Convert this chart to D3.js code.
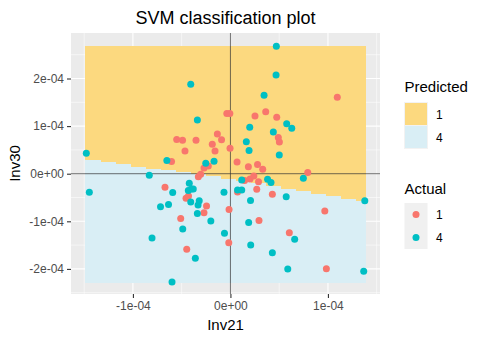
<!DOCTYPE html>
<html><head><meta charset="utf-8">
<script src="https://cdn.jsdelivr.net/npm/d3@7"></script>
<style>body{margin:0;background:#fff}svg{display:block;font-family:"Liberation Sans",Arial,sans-serif}</style>
</head><body><svg id="c" width="488" height="341"></svg>
<script>
// ---- data ----
const title = "SVM classification plot";
const xLabel = "Inv21", yLabel = "Inv30";
const xTickValues = [-1e-4, 0, 1e-4];
const xTickLabels = ["-1e-04", "0e+00", "1e-04"];
const yTickValues = [-2e-4, -1e-4, 0, 1e-4, 2e-4];
const yTickLabels = ["-2e-04", "-1e-04", "0e+00", "1e-04", "2e-04"];
const xMinor = [-1.5e-4, -0.5e-4, 0.5e-4, 1.5e-4];
const yMinor = [-2.5e-4, -1.5e-4, -0.5e-4, 0.5e-4, 1.5e-4, 2.5e-4];

// decision grid: column edges along Inv21 and boundary Inv30 per column
const gridInv21Edges = [-1.4944e-4, -1.3374e-4, -1.1836e-4, -1.0297e-4, -0.8759e-4, -0.7221e-4, -0.5682e-4,
  -0.4144e-4, -0.2605e-4, -0.1067e-4, 0.0472e-4, 0.2010e-4, 0.3549e-4, 0.5087e-4, 0.6626e-4, 0.8164e-4,
  0.9703e-4, 1.1241e-4, 1.2779e-4, 1.3877e-4];
const boundaryInv30 = [0.2983e-4, 0.2521e-4, 0.2038e-4, 0.1513e-4, 0.1092e-4, 0.0714e-4, 0.0315e-4, -0.0063e-4,
  -0.0483e-4, -0.1008e-4, -0.1534e-4, -0.2017e-4, -0.2584e-4, -0.3151e-4, -0.3634e-4, -0.4202e-4,
  -0.4685e-4, -0.5252e-4, -0.5798e-4];
const gridInv30Range = [-2.2962e-4, 2.6891e-4];

const predictedLevels = ["1", "4"];
const actualLevels = ["1", "4"];

// observations (units of Inv21 / Inv30), actual class
const red21 = [1.096,0.362,0.252,0.475,-0.037,-0.006,-0.551,-0.491,-0.353,-0.134,-0.091,-0.186,-0.466,-0.158,-0.004,
  0.491,0.502,-0.604,-0.271,-0.227,-0.329,-0.305,0.068,0.184,0.278,0.331,0.793,0.201,0.240,0.288,0.145,0.270,0.073,
  0.430,-0.671,-0.455,-0.430,-0.245,-0.271,-0.014,-0.510,0.293,0.968,-0.017,0.604,-0.448,0.984].map(v=>v*1e-4);
const red30 = [1.605,1.303,1.212,1.185,1.265,1.265,0.718,0.704,0.702,0.834,0.712,0.620,0.477,0.477,0.534,
  0.761,0.666,0.256,0.120,0.162,-0.063,-0.013,0.246,0.145,0.193,0.095,0.025,-0.111,-0.048,-0.168,-0.143,-0.328,-0.384,
  -0.431,-0.286,-0.517,-0.468,-0.679,-0.819,-0.752,-0.941,-0.983,-0.784,-1.450,-1.239,-1.588,-1.996].map(v=>v*1e-4);
const cyan21 = [0.471,0.468,-0.407,0.345,-0.339,0.198,0.577,0.629,0.440,0.163,0.191,0.501,-1.478,-0.652,-0.253,-0.168,
  -0.832,0.748,0.116,0.381,0.416,-1.447,-0.592,-0.422,-0.399,-0.432,-0.381,-0.066,0.073,0.116,0.572,0.206,1.378,-0.407,
  -0.320,-0.332,-0.339,-0.717,-0.635,-0.489,-0.201,0.187,-0.061,-0.804,0.208,0.659,-0.360,0.430,0.588,1.367,-0.599].map(v=>v*1e-4);
const cyan30 = [2.676,2.074,1.878,1.647,1.128,0.975,1.050,0.954,0.876,0.672,0.487,0.393,0.429,0.277,0.218,0.263,
  -0.032,-0.095,-0.132,-0.116,-0.185,-0.391,-0.397,-0.202,-0.321,-0.353,-0.321,-0.391,-0.342,-0.342,-0.483,-0.565,-0.567,-0.595,
  -0.567,-0.658,-0.836,-0.693,-0.649,-1.162,-0.994,-1.025,-1.252,-1.351,-1.498,-1.378,-1.777,-1.660,-2.002,-2.050,-2.275].map(v=>v*1e-4);

// ---- styling ----
const fillColors = {"1": "#FCD97F", "4": "#D9EEF5"};
const pointColors = {"1": "#F8766D", "4": "#00BFC4"};

const svg = d3.select("#c");
const P = {l: 71, r: 380, t: 33, b: 294};
const x = d3.scaleLinear().domain([-1.635e-4, 1.534e-4]).range([P.l, P.r]);
const y = d3.scaleLinear().domain([-2.527e-4, 2.956e-4]).range([P.b, P.t]);

// panel
svg.append("rect").attr("x", P.l).attr("y", P.t).attr("width", P.r - P.l).attr("height", P.b - P.t).attr("fill", "#EBEBEB");
const grid = svg.append("g").attr("stroke", "#fff");
xMinor.forEach(v => grid.append("line").attr("x1", x(v)).attr("x2", x(v)).attr("y1", P.t).attr("y2", P.b).attr("stroke-width", 0.55));
yMinor.forEach(v => grid.append("line").attr("y1", y(v)).attr("y2", y(v)).attr("x1", P.l).attr("x2", P.r).attr("stroke-width", 0.55));
xTickValues.forEach(v => grid.append("line").attr("x1", x(v)).attr("x2", x(v)).attr("y1", P.t).attr("y2", P.b).attr("stroke-width", 1.1));
yTickValues.forEach(v => grid.append("line").attr("y1", y(v)).attr("y2", y(v)).attr("x1", P.l).attr("x2", P.r).attr("stroke-width", 1.1));

// decision raster
const cols = boundaryInv30.map((b, i) => ({x0: gridInv21Edges[i], x1: gridInv21Edges[i + 1], b}));
const rg = svg.append("g").attr("shape-rendering", "crispEdges");
rg.selectAll("rect.p1").data(cols).join("rect")
  .attr("x", d => x(d.x0)).attr("width", d => x(d.x1) - x(d.x0) + 0.5)
  .attr("y", y(gridInv30Range[1])).attr("height", d => y(d.b) - y(gridInv30Range[1]))
  .attr("fill", fillColors["1"]);
rg.selectAll("rect.p4").data(cols).join("rect")
  .attr("x", d => x(d.x0)).attr("width", d => x(d.x1) - x(d.x0) + 0.5)
  .attr("y", d => y(d.b)).attr("height", d => y(gridInv30Range[0]) - y(d.b))
  .attr("fill", fillColors["4"]);

// reference lines
svg.append("line").attr("x1", x(0)).attr("x2", x(0)).attr("y1", P.t).attr("y2", P.b).attr("stroke", "#333").attr("stroke-opacity", 0.7).attr("stroke-width", 1);
svg.append("line").attr("y1", y(0)).attr("y2", y(0)).attr("x1", P.l).attr("x2", P.r).attr("stroke", "#333").attr("stroke-opacity", 0.7).attr("stroke-width", 1);

// points
const pts = red21.map((v, i) => ({a: v, b: red30[i], c: "1"}))
  .concat(cyan21.map((v, i) => ({a: v, b: cyan30[i], c: "4"})));
svg.append("g").selectAll("circle").data(pts).join("circle")
  .attr("cx", d => x(d.a)).attr("cy", d => y(d.b)).attr("r", 3.5).attr("fill", d => pointColors[d.c]);

// axes
const xa = svg.append("g").attr("transform", `translate(0,${P.b})`)
  .call(d3.axisBottom(x).tickValues(xTickValues).tickFormat((d, i) => xTickLabels[i]).tickSize(4).tickPadding(3));
const ya = svg.append("g").attr("transform", `translate(${P.l},0)`)
  .call(d3.axisLeft(y).tickValues(yTickValues).tickFormat((d, i) => yTickLabels[i]).tickSize(4).tickPadding(3));
[xa, ya].forEach(a => {
  a.select(".domain").remove();
  a.selectAll(".tick line").attr("stroke", "#333").attr("stroke-width", 1.1);
  a.selectAll(".tick text").attr("fill", "#4D4D4D").style("font-size", "12px").style("font-family", "Liberation Sans, Arial, sans-serif");
});

// titles
svg.append("text").attr("x", (P.l + P.r) / 2).attr("y", 24).attr("text-anchor", "middle")
  .style("font-size", "18px").text(title);
svg.append("text").attr("x", (P.l + P.r) / 2).attr("y", 330).attr("text-anchor", "middle")
  .style("font-size", "15px").text(xLabel);
svg.append("text").attr("transform", `translate(20,${(P.t + P.b) / 2}) rotate(-90)`).attr("text-anchor", "middle")
  .style("font-size", "15px").text(yLabel);

// legends
const lx = 404.5;
svg.append("text").attr("x", lx).attr("y", 92).style("font-size", "15px").text("Predicted");
predictedLevels.forEach((k, i) => {
  svg.append("rect").attr("x", lx).attr("y", 102.5 + i * 23).attr("width", 23).attr("height", 23)
    .attr("fill", fillColors[k]).attr("stroke", "#F2F2F2").attr("stroke-width", 1);
  svg.append("text").attr("x", 436).attr("y", 118.5 + i * 23).style("font-size", "12px").text(k);
});
svg.append("text").attr("x", lx).attr("y", 193.5).style("font-size", "15px").text("Actual");
actualLevels.forEach((k, i) => {
  svg.append("rect").attr("x", lx).attr("y", 203 + i * 23).attr("width", 23).attr("height", 23).attr("fill", "#F0F0F0");
  svg.append("circle").attr("cx", lx + 11.5).attr("cy", 214.5 + i * 23).attr("r", 3.5).attr("fill", pointColors[k]);
  svg.append("text").attr("x", 436).attr("y", 219 + i * 23).style("font-size", "12px").text(k);
});
</script></body></html>
